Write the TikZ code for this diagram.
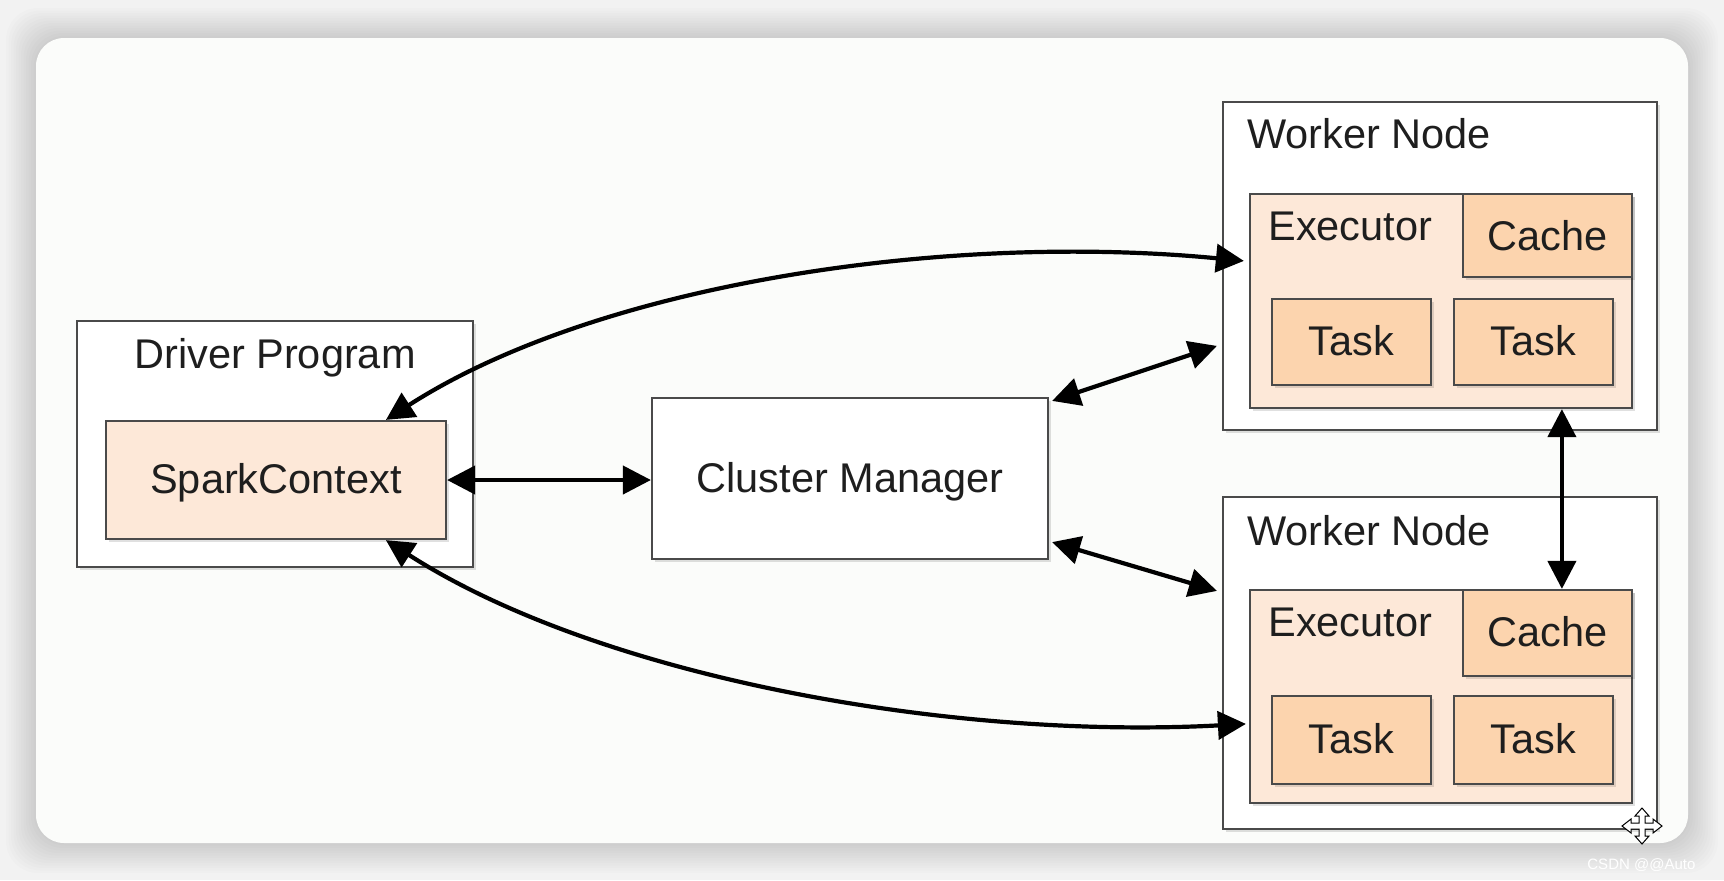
\documentclass[tikz,border=0pt]{standalone}
\usepackage{fontspec}
\setmainfont{Liberation Sans}
\usetikzlibrary{arrows.meta,calc,shadows}
\definecolor{bgc}{HTML}{F2F2F2}
\definecolor{cardc}{HTML}{FBFCFA}
\definecolor{edgec}{HTML}{4A4A4A}
\definecolor{peachl}{HTML}{FDE8D8}
\definecolor{peachd}{HTML}{FCD4AE}
\definecolor{txtc}{HTML}{1E1E1E}
\newcommand\lbfont{\fontsize{20.75pt}{24pt}\selectfont}
\tikzset{
  boxbase/.style={rectangle, draw=edgec, line width=1.1pt, inner sep=0pt,
    drop shadow={shadow xshift=1.4pt, shadow yshift=-1.4pt, fill=black, opacity=0.12}},
  wbox/.style={boxbase, fill=white},
  lbox/.style={boxbase, fill=peachl},
  dbox/.style={boxbase, fill=peachd},
  lbl/.style={font=\lbfont, text=txtc, inner sep=0pt},
  conn/.style={{Triangle[length=14pt,width=14pt]}-{Triangle[length=14pt,width=14pt]}, line width=2.1pt, black},
}
\begin{document}
\begin{tikzpicture}[x=0.5pt, y=-0.5pt]
\useasboundingbox (0,0) rectangle (1724,880);
% background and card
\fill[bgc] (0,0) rectangle (1724,880);
\foreach \i in {1,...,12}{
  \fill[black, opacity=0.012, rounded corners=16pt] (36-\i*2.5,38-\i*2.5) rectangle (1688+\i*2.5,843+\i*2.5);
}
\fill[cardc, rounded corners=14pt] (36,38) rectangle (1688,843);

% driver
\node[wbox, minimum width=198pt, minimum height=123pt] (driver) at (275,444) {};
\node[lbl, anchor=base] (drivertext) at (275,368) {Driver Program};
\node[lbox, minimum width=170pt, minimum height=59pt] (sc) at (276,480) {};
\node[lbl, anchor=base] (sctext) at (276,493) {SparkContext};

% cluster manager
\node[wbox, minimum width=198pt, minimum height=80.5pt] (cm) at (850,478.5) {};
\node[lbl, anchor=base] (cmtext) at (850,492) {Cluster Manager};

% worker 1
\node[wbox, minimum width=217pt, minimum height=164pt] (w1) at (1440,266) {};
\node[lbl, anchor=base west] (w1text) at (1247,148) {Worker Node};
\node[lbox, minimum width=191pt, minimum height=107pt] (e1) at (1441,301) {};
\node[lbl, anchor=base west] (e1text) at (1268,240) {Executor};
\node[dbox, minimum width=84.5pt, minimum height=41.5pt] (c1) at (1547.5,235.5) {};
\node[lbl, anchor=base] (c1text) at (1547.5,250) {Cache};
\node[dbox, minimum width=79.5pt, minimum height=43pt] (t1a) at (1351.5,342) {};
\node[lbl, anchor=base] (t1atext) at (1351.5,355) {Task};
\node[dbox, minimum width=79.5pt, minimum height=43pt] (t1b) at (1533.5,342) {};
\node[lbl, anchor=base] (t1btext) at (1533.5,355) {Task};

% worker 2
\node[wbox, minimum width=217pt, minimum height=166pt] (w2) at (1440,663) {};
\node[lbl, anchor=base west] (w2text) at (1247,545) {Worker Node};
\node[lbox, minimum width=191pt, minimum height=106.5pt] (e2) at (1441,696.5) {};
\node[lbl, anchor=base west] (e2text) at (1268,636) {Executor};
\node[dbox, minimum width=84.5pt, minimum height=43pt] (c2) at (1547.5,633) {};
\node[lbl, anchor=base] (c2text) at (1547.5,646) {Cache};
\node[dbox, minimum width=79.5pt, minimum height=44pt] (t2a) at (1351.5,740) {};
\node[lbl, anchor=base] (t2atext) at (1351.5,753) {Task};
\node[dbox, minimum width=79.5pt, minimum height=44pt] (t2b) at (1533.5,740) {};
\node[lbl, anchor=base] (t2btext) at (1533.5,753) {Task};

% connectors
\draw[conn] (sc.east) -- (cm.west |- sc.east);
\draw[conn] ($(cm.north east)+(3,4)$) -- ($(w1.north west)+(-5,245)$);
\draw[conn] ($(cm.south east)+(3,-18)$) -- ($(w2.north west)+(-5,95)$);
\draw[conn] ($(sc.north west)+(281,0)$) .. controls (597,284) and (945,232) .. ($(e1.north west)+(-5,68)$);
\draw[conn] ($(sc.south west)+(281,0)$) .. controls (597,676) and (947,740) .. ($(e2.north west)+(-3,135)$);
\coordinate (vtop) at ($(e1.south west)+(313,0)$);
\draw[conn] (vtop) -- (vtop |- c2.north);

% cursor icon
\draw[draw=black, fill=white, line width=0.5pt, line join=miter, shift={(1642,826)}]
  (0,-18) -- (7,-10) -- (3,-10) -- (3,-3) -- (11,-3) -- (11,-7) -- (20,0) -- (11,7) -- (11,3)
  -- (3,3) -- (3,10) -- (7,10) -- (0,18) -- (-7,10) -- (-3,10) -- (-3,3) -- (-11,3)
  -- (-11,7) -- (-20,0) -- (-11,-7) -- (-11,-3) -- (-3,-3) -- (-3,-10) -- (-7,-10) -- cycle;

% watermark
\node[anchor=base west, inner sep=0pt, font=\fontsize{7.5pt}{9pt}\selectfont, text=white] (wm) at (1587,869) {CSDN @@Auto};
\end{tikzpicture}
\end{document}
